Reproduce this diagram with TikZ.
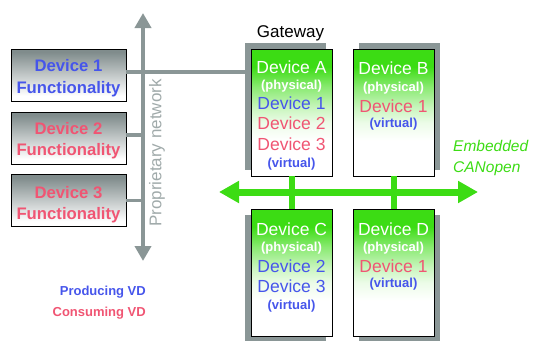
\documentclass[tikz,border=0pt]{standalone}
\usepackage{fontspec}
\setmainfont{Liberation Sans}
\usetikzlibrary{arrows.meta,shadows}
\definecolor{gbright}{RGB}{60,220,20}
\definecolor{ggray}{RGB}{128,140,140}
\definecolor{netgray}{RGB}{138,150,150}
\definecolor{lblgray}{RGB}{160,170,170}
\definecolor{vblue}{RGB}{70,85,235}
\definecolor{vpink}{RGB}{240,85,115}
\colorlet{gA}{gbright!60!white}
\colorlet{gB}{gbright!28!white}
\colorlet{gC}{gbright!10!white}
\pgfdeclareverticalshading{greenfade}{100bp}{color(0bp)=(white); color(39bp)=(white); color(46bp)=(gC); color(52bp)=(gB); color(60bp)=(gA); color(68bp)=(gbright); color(100bp)=(gbright)}
\pgfdeclareverticalshading{grayfade}{100bp}{color(0bp)=(white); color(30bp)=(white); color(72bp)=(ggray); color(100bp)=(ggray)}
\begin{document}
\begin{tikzpicture}[x=1pt,y=-1pt,
  fbox/.style={draw=black, line width=0.9pt, shade, shading=grayfade, minimum width=115pt, minimum height=52pt, inner sep=0pt},
  gbox/.style={draw=black, line width=0.9pt, shade, shading=greenfade, minimum width=81pt, minimum height=127pt, inner sep=0pt},
  shad/.style 2 args={drop shadow={shadow xshift=#1, shadow yshift=#2, fill=netgray, opacity=1}},
  lt/.style={font=\fontsize{16.7}{19}\selectfont\bfseries, inner sep=0pt, text height=12pt, text depth=0pt},
  gt/.style={font=\fontsize{17.5}{20}\selectfont, inner sep=0pt, text height=12.6pt, text depth=0pt},
  st/.style={font=\fontsize{13}{15}\selectfont\bfseries, inner sep=0pt, text height=9.4pt, text depth=0pt},
  lg/.style={font=\fontsize{13}{15}\selectfont\bfseries, inner sep=0pt, text height=9.3pt, text depth=0pt, anchor=east},
  netline/.style={netgray, line width=3.5pt},
  busline/.style={gbright, line width=6pt}
]
\useasboundingbox (0,0) rectangle (535,340);

% proprietary network
\coordinate (nt) at (143,13);
\coordinate (nb) at (143,261);
\draw[netgray, line width=4.5pt, {Triangle[width=16pt,length=15pt]}-{Triangle[width=16pt,length=15pt]}] (nb) -- (nt);
\node[font=\fontsize{17}{19}\selectfont, text=lblgray, rotate=90, inner sep=0pt] (pn) at (157,153) {Proprietary network};

% functionality boxes
\node[fbox] (F1) at (68.5,75) {};
\node[fbox] (F2) at (68.5,138) {};
\node[fbox] (F3) at (68.5,200.5) {};
\node[lt, text=vblue] (F1a) at (68.5,65) {Device 1};
\node[lt, text=vblue] (F1b) at (68.5,87) {Functionality};
\node[lt, text=vpink] (F2a) at (68.5,128) {Device 2};
\node[lt, text=vpink] (F2b) at (68.5,149) {Functionality};
\node[lt, text=vpink] (F3a) at (68.5,192) {Device 3};
\node[lt, text=vpink] (F3b) at (68.5,213) {Functionality};

\draw[netline] (F2.east) ++(0,-3) -- (143,135);
\draw[netline] (F3.east) -- (F3.east -| nt);

% gateway boxes
\node[gbox, shad={-6pt}{6pt}] (A) at (291.5,112.5) {};
\node[gbox, shad={6pt}{6pt}] (B) at (393.5,112.5) {};
\node[gbox, shad={-6pt}{-6pt}] (C) at (291.5,272.5) {};
\node[gbox, shad={6pt}{-6pt}] (D) at (393.5,272.5) {};

\coordinate (gwL) at (245.5,72);
\draw[netline] (F1.east |- gwL) -- (gwL);

\node[font=\fontsize{17}{19}\selectfont, inner sep=0pt, text height=12.2pt, text depth=0pt] (gw) at (290.5,31) {Gateway};

% texts in A
\node[gt, text=white] (Aa) at (291.5,67) {Device A};
\node[st, text=white] (Ab) at (291.5,85) {(physical)};
\node[gt, text=vblue] (Ac) at (291.5,103) {Device 1};
\node[gt, text=vpink] (Ad) at (291.5,123) {Device 2};
\node[gt, text=vpink] (Ae) at (291.5,144) {Device 3};
\node[st, text=vblue] (Af) at (291.5,163) {(virtual)};
% texts in B
\node[gt, text=white] (Ba) at (393.5,68) {Device B};
\node[st, text=white] (Bb) at (393.5,87) {(physical)};
\node[gt, text=vpink] (Bc) at (393.5,106) {Device 1};
\node[st, text=vblue] (Bd) at (393.5,123) {(virtual)};
% texts in C
\node[gt, text=white] (Ca) at (291.5,229) {Device C};
\node[st, text=white] (Cb) at (291.5,247) {(physical)};
\node[gt, text=vblue] (Cc) at (291.5,266) {Device 2};
\node[gt, text=vblue] (Cd) at (291.5,286) {Device 3};
\node[st, text=vblue] (Ce) at (291.5,305) {(virtual)};
% texts in D
\node[gt, text=white] (Da) at (393.5,229) {Device D};
\node[st, text=white] (Db) at (393.5,247) {(physical)};
\node[gt, text=vpink] (Dc) at (393.5,266) {Device 1};
\node[st, text=vblue] (Dd) at (393.5,283) {(virtual)};

% CANopen bus
\coordinate (busL) at (219,192);
\coordinate (busR) at (478,192);
\draw[gbright, line width=7pt, {Triangle[width=21pt,length=20pt]}-{Triangle[width=21pt,length=20pt]}] (busL) -- (busR);
\draw[busline] (A.south) -- (C.north);
\draw[busline] (B.south) -- (D.north);

\node[font=\fontsize{15.5}{17}\selectfont\itshape, text=gbright, anchor=west, inner sep=0pt, text height=11pt, text depth=0pt] (emb) at (453,146) {Embedded};
\node[font=\fontsize{15.5}{17}\selectfont\itshape, text=gbright, anchor=west, inner sep=0pt, text height=11pt, text depth=0pt] (can) at (453,167) {CANopen};

% legend
\node[lg, text=vblue] (prod) at (146,291) {Producing VD};
\node[lg, text=vpink] (cons) at (146,312) {Consuming VD};
\end{tikzpicture}
\end{document}
